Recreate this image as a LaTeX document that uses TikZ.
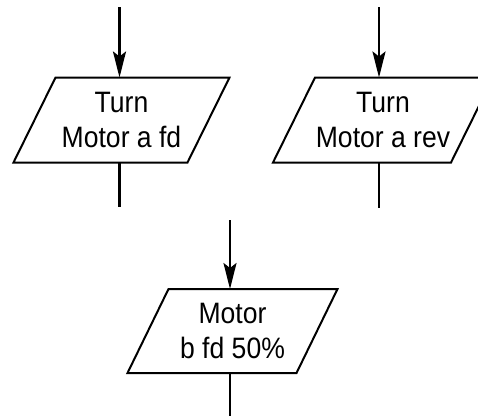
\documentclass[tikz,border=0pt]{standalone}
\usepackage{fontspec}
\setmainfont{Liberation Sans}[FakeStretch=0.9]
\usetikzlibrary{arrows.meta}
\tikzset{
  io/.style={rectangle, minimum height=85pt, inner sep=0pt, outer sep=0pt,
    align=center, font=\fontsize{29.5}{35}\selectfont},
  pline/.style={line width=2pt, line join=miter},
  arr/.style={line width=2.4pt, -{Stealth[length=26pt,width=13pt,inset=5pt]}},
  ln/.style={line width=2.4pt}
}
\newcommand\myparal[2]{\draw[pline] ([xshift=-#2]#1.south west) -- ([xshift=-#2]#1.south east) -- ([xshift=#2]#1.north east) -- ([xshift=#2]#1.north west) -- cycle;}
\begin{document}
\begin{tikzpicture}[x=1pt,y=-1pt]
\useasboundingbox (0,0) rectangle (478,416);
\node[io, minimum width=174pt] (L) at (121.5,120) {Turn\\Motor a fd};
\node[io, minimum width=178pt] (R) at (383,120) {Turn\\Motor a rev};
\node[io, minimum width=169pt, minimum height=84pt] (B) at (232.5,331) {Motor\\b fd 50\%};
\myparal{L}{21pt}
\myparal{R}{21pt}
\myparal{B}{20.5pt}
\coordinate (la) at (119.5,7);
\coordinate (lb) at (119.5,207);
\coordinate (ra) at (379,7);
\coordinate (rb) at (379,208);
\coordinate (ba) at (230,220);
\coordinate (bb) at (230,416);
\draw[arr] (la) -- (la |- L.north);
\draw[ln] (lb |- L.south) -- (lb);
\draw[arr] (ra) -- (ra |- R.north);
\draw[ln] (rb |- R.south) -- (rb);
\draw[arr] (ba) -- (ba |- B.north);
\draw[ln] (bb |- B.south) -- (bb);
\end{tikzpicture}
\end{document}
